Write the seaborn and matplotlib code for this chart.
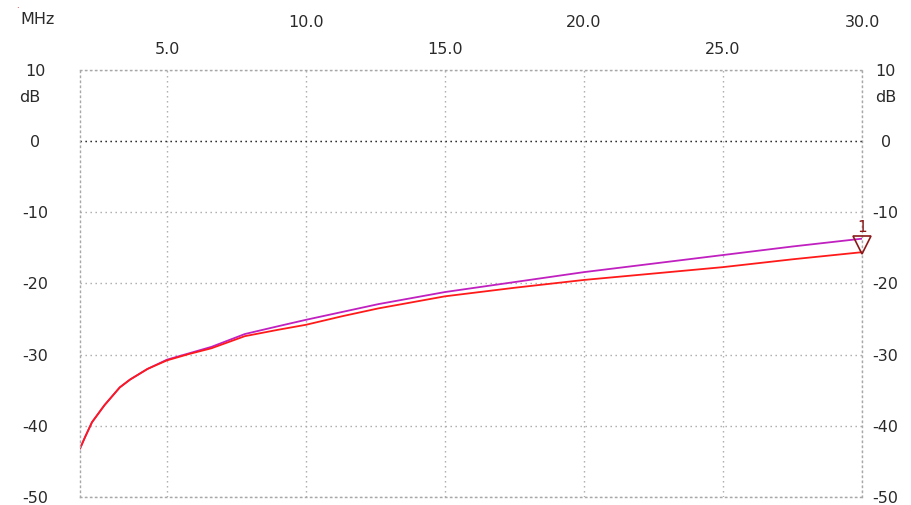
import numpy as np
import pandas as pd
import seaborn as sns
from matplotlib import pyplot as plt

# values (MHz, dB)
freq_mhz = [1.87, 2.05, 2.3, 2.75, 3.3, 3.67, 4.3, 5.0, 5.8, 6.6, 7.8, 9.0, 10.0, 11.3, 12.6, 15.0, 17.5, 20.0, 22.5, 25.0, 27.5, 30.0]
red_db = [-43.2, -41.6, -39.5, -37.1, -34.6, -33.5, -32.0, -30.8, -29.9, -29.1, -27.4, -26.5, -25.8, -24.6, -23.5, -21.8, -20.6, -19.5, -18.6, -17.7, -16.6, -15.6]
purple_db = [-43.2, -41.6, -39.5, -37.1, -34.6, -33.5, -32.0, -30.7, -29.8, -28.9, -27.1, -26.0, -25.1, -24.0, -22.9, -21.2, -19.8, -18.4, -17.2, -16.0, -14.8, -13.7]
series_names = ["S21 ref", "S21"]
series_colors = ["#c020c0", "#ff1a1a"]

x_major = [10.0, 20.0, 30.0]
x_minor = [5.0, 15.0, 25.0]
y_ticks = [10, 0, -10, -20, -30, -40, -50]
marker_freq = 30.0
marker_db = -14.6
marker_label = "1"

df = pd.concat([
    pd.DataFrame({"MHz": freq_mhz, "dB": purple_db, "trace": series_names[0]}),
    pd.DataFrame({"MHz": freq_mhz, "dB": red_db, "trace": series_names[1]}),
])

sns.set_style("white")
plt.rcParams['font.family'] = ['DejaVu Sans']
txt = "#2a2a2a"
fs = 11.5

fig = plt.figure(figsize=(9.11, 5.05), dpi=100)
ax = fig.add_axes([80 / 911, 1 - 497 / 505, (862 - 80) / 911, (497 - 70) / 505])

sns.lineplot(data=df, x="MHz", y="dB", hue="trace", palette=series_colors,
             linewidth=1.3, legend=False, ax=ax, sort=False)

ax.set_xlim(freq_mhz[0], 30.0)
ax.set_ylim(-50, 10)
ax.set_xlabel("")
ax.set_ylabel("")

dots = (0, (1, 2.6))
for sp in ax.spines.values():
    sp.set_visible(True)
    sp.set_linestyle(dots)
    sp.set_color("#a8a8a8")
    sp.set_linewidth(1.0)

ax.set_xticks(x_major)
ax.set_xticks(x_minor, minor=True)
ax.set_xticklabels([f"{v:.1f}" for v in x_major])
ax.set_xticklabels([f"{v:.1f}" for v in x_minor], minor=True)
ax.xaxis.tick_top()
ax.tick_params(axis="x", which="major", length=0, pad=29, labelsize=fs, labelcolor=txt)
ax.tick_params(axis="x", which="minor", length=0, pad=9, labelsize=fs, labelcolor=txt)

ax.set_yticks(y_ticks)
ax.set_yticklabels([str(v) for v in y_ticks])
ax.tick_params(axis="y", length=0, pad=32, labelsize=fs, labelcolor=txt)
for lb in ax.get_yticklabels():
    lb.set_ha("center")

ax.grid(True, which="both", axis="x", linestyle=dots, color="#a8a8a8", linewidth=1.0)
ax.grid(True, which="major", axis="y", linestyle=dots, color="#a8a8a8", linewidth=1.0)
ax.axhline(0, linestyle=dots, color="#202020", linewidth=1.0, zorder=1)

ax2 = ax.twinx()
ax2.set_ylim(-50, 10)
ax2.set_yticks(y_ticks)
ax2.set_yticklabels([str(v) for v in y_ticks])
ax2.tick_params(axis="y", length=0, pad=17, labelsize=fs, labelcolor=txt)
for lb in ax2.get_yticklabels():
    lb.set_ha("center")
for sp in ax2.spines.values():
    sp.set_visible(False)
ax2.grid(False)

ax.plot([marker_freq], [marker_db], marker="v", ms=13, mfc="none", mec="#8b1a1a",
        mew=1.2, clip_on=False, zorder=5)
ax.text(marker_freq, marker_db + 2.5, marker_label, ha="center", va="center",
        color="#8b1a1a", fontsize=11, clip_on=False)

fig.text(38 / 911, 1 - 20 / 505, "MHz", ha="center", va="center", fontsize=fs, color=txt)
fig.text(30 / 911, 1 - 98 / 505, "dB", ha="center", va="center", fontsize=fs, color=txt)
fig.text(886 / 911, 1 - 98 / 505, "dB", ha="center", va="center", fontsize=fs, color=txt)
fig.text(17 / 911, 1 - 5 / 505, ".", ha="center", va="center", fontsize=6, color="#cc0000")

fig.savefig("out.png", dpi=100)
